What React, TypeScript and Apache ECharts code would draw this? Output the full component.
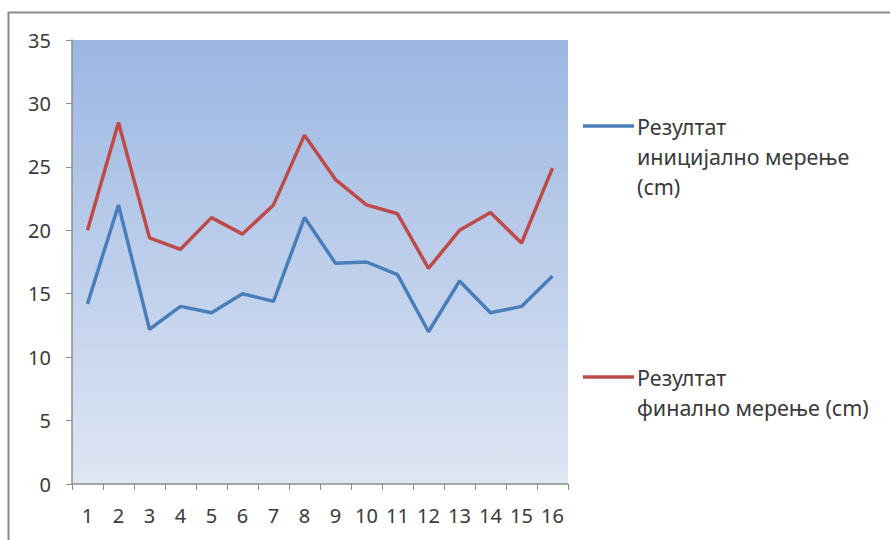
import React, { useEffect, useRef } from "react";
import * as echarts from "echarts";

const categories = ["1", "2", "3", "4", "5", "6", "7", "8", "9", "10", "11", "12", "13", "14", "15", "16"];
const initialName = "Резултат иницијално мерење (cm)";
const finalName = "Резултат финално мерење (cm)";
const initialValues = [14.2, 22, 12.2, 14, 13.5, 15, 14.4, 21, 17.4, 17.5, 16.5, 12, 16, 13.5, 14, 16.4];
const finalValues = [20, 28.5, 19.4, 18.5, 21, 19.7, 22, 27.5, 24, 22, 21.3, 17, 20, 21.4, 19, 24.9];
const initialLegendLines = ["Резултат", "иницијално мерење", "(cm)"];
const finalLegendLines = ["Резултат", "финално мерење (cm)"];

const BLUE = "#4a7ebb";
const RED = "#be4b48";
const TEXT = "#3a3a3a";
const FONT = "Noto Sans";

export default function App() {
  const ref = useRef<HTMLDivElement>(null);

  useEffect(() => {
    if (!ref.current) return;
    const chart = echarts.init(ref.current, null, { renderer: "svg" });

    const legendEntry = (color: string, lines: string[], top: number) => ({
      type: "group",
      children: [
        {
          type: "line",
          shape: { x1: 583, y1: top, x2: 634, y2: top },
          style: { stroke: color, lineWidth: 3.5 },
        },
        {
          type: "text",
          x: 637,
          y: top - 15,
          style: {
            text: lines.join("\n"),
            fill: TEXT,
            font: `21.5px "${FONT}"`,
            lineHeight: 30,
            verticalAlign: "top",
          },
        },
      ],
    });

    chart.setOption({
      animation: false,
      backgroundColor: "#ffffff",
      grid: {
        left: 72,
        top: 40,
        width: 496,
        height: 444,
        show: true,
        borderWidth: 0,
        backgroundColor: new echarts.graphic.LinearGradient(0, 0, 0, 1, [
          { offset: 0, color: "#9bb7e2" },
          { offset: 1, color: "#dfe6f4" },
        ]),
      },
      xAxis: {
        type: "category",
        data: categories,
        boundaryGap: true,
        axisLine: { lineStyle: { color: "#8c8c8c", width: 1.5 } },
        axisTick: { show: true, length: 6, lineStyle: { color: "#8c8c8c" } },
        axisLabel: { color: TEXT, fontFamily: FONT, fontSize: 20, margin: 21, interval: 0 },
      },
      yAxis: {
        type: "value",
        min: 0,
        max: 35,
        interval: 5,
        axisLine: { show: true, lineStyle: { color: "#8c8c8c", width: 1.5 } },
        axisTick: { show: true, length: 6, lineStyle: { color: "#8c8c8c" } },
        axisLabel: { color: TEXT, fontFamily: FONT, fontSize: 20, margin: 21 },
        splitLine: { show: false },
      },
      series: [
        {
          name: initialName,
          type: "line",
          data: initialValues,
          symbol: "none",
          lineStyle: { color: BLUE, width: 3.5 },
          itemStyle: { color: BLUE },
        },
        {
          name: finalName,
          type: "line",
          data: finalValues,
          symbol: "none",
          lineStyle: { color: RED, width: 3.5 },
          itemStyle: { color: RED },
        },
      ],
      graphic: [
        {
          type: "rect",
          shape: { x: 8.5, y: 12.5, width: 900, height: 600 },
          style: { fill: "none", stroke: "#8a8a8a", lineWidth: 2 },
          silent: true,
        },
        legendEntry(BLUE, initialLegendLines, 126),
        legendEntry(RED, finalLegendLines, 377),
      ],
    });

    return () => chart.dispose();
  }, []);

  return (
    <div
      ref={ref}
      style={{ position: "fixed", left: 0, top: 0, width: 890, height: 540 }}
    />
  );
}
